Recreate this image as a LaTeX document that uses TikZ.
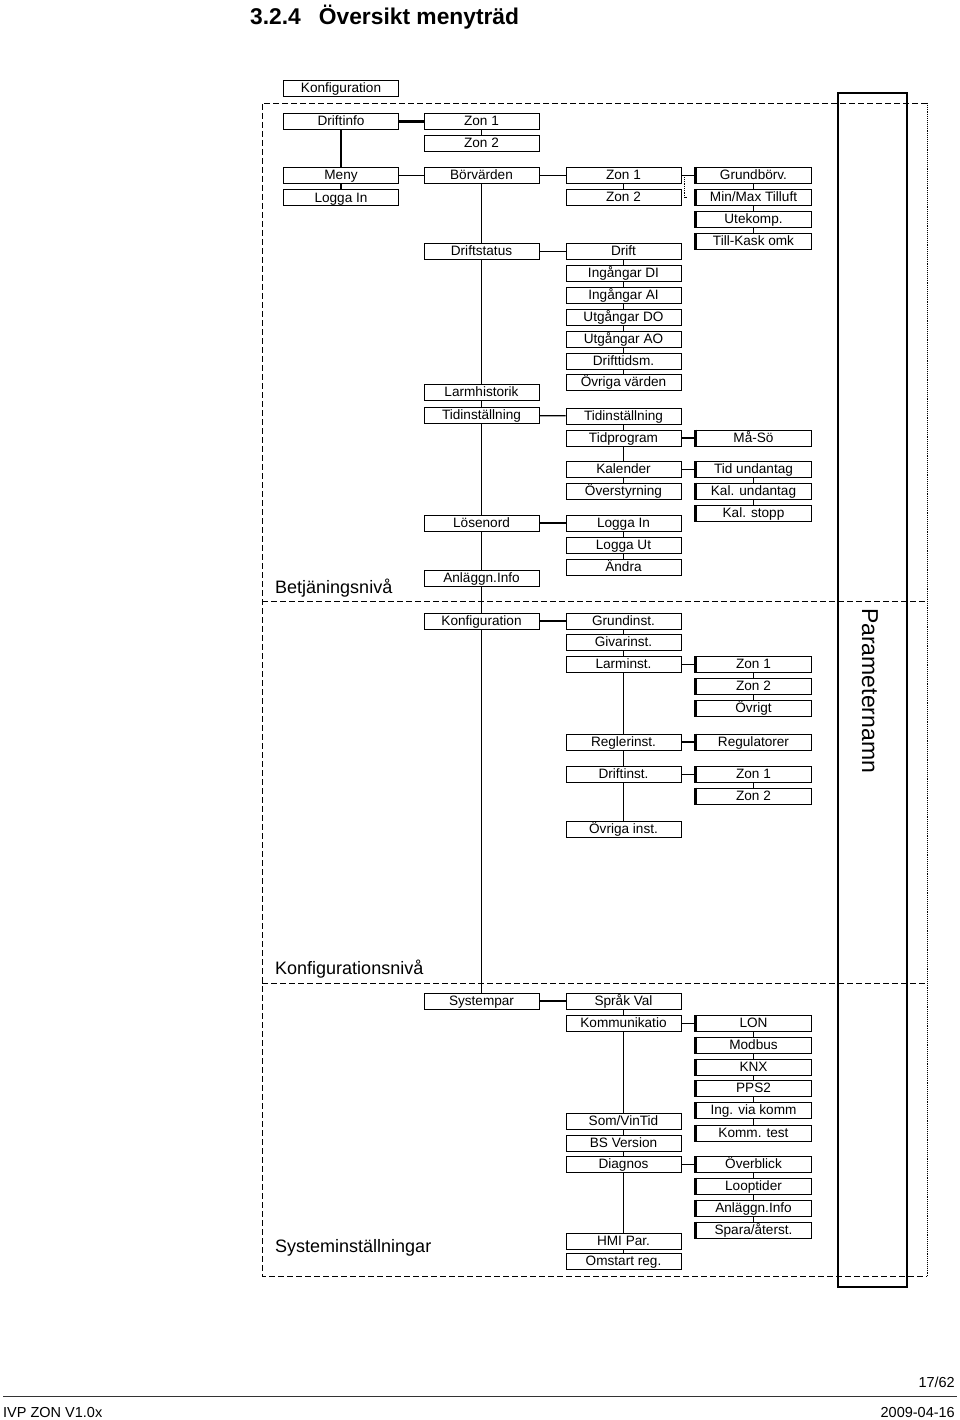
\documentclass[tikz,border=0pt]{standalone}
\usepackage{fontspec}
\setmainfont{Liberation Sans}
\usetikzlibrary{positioning, backgrounds}

\tikzset{
  menubox/.style={draw, line width=1pt, fill=white, minimum width=115pt, minimum height=16pt,
                  inner sep=0pt, text height=9.6pt, text depth=1pt, font=\fontsize{13.6}{13.6}\selectfont},
  subbox/.style={menubox, append after command={(\tikzlastnode.north west) edge[line width=2.4pt] (\tikzlastnode.south west)}},
  link/.style={line width=1.1pt},
  frame/.style={line width=0.9pt, dash pattern=on 6pt off 3pt},
  level/.style={font=\fontsize{18}{18}\selectfont, anchor=base west, inner sep=0pt},
  foot/.style={font=\fontsize{14.5}{15}\selectfont, inner sep=0pt},
}

\begin{document}
\begin{tikzpicture}[x=1pt, y=-1pt]
  \useasboundingbox (0,0) rectangle (960,1420);

  % Heading.
  \node[font=\fontsize{22.8}{24}\selectfont\bfseries, anchor=base west, inner sep=0pt] (title) at (250,25)
    {3.2.4\hspace{18pt}Översikt menyträd};

  % Level frame, split in three bands.
  \draw[frame] (927,103) -- (262,103) -- (262,1276) -- (927,1276);
  \draw[line width=0.9pt, densely dotted] (927,103) -- (927,1276);
  \draw[frame] (262,601) -- (927,601);
  \draw[frame] (262,983) -- (927,983);
  \node[level] (betj) at (275,593) {Betjäningsnivå};
  \node[level] (konfniva) at (275,974) {Konfigurationsnivå};
  \node[level] (systinst) at (275,1252) {Systeminställningar};

  % Parameter name column.
  \node[draw, line width=1.5pt, minimum width=69pt, minimum height=1194pt, inner sep=0pt] (param) at (872.5,690) {};
  \node[rotate=-90, anchor=west, inner sep=0pt, font=\fontsize{23}{23}\selectfont] (paramtext) at (870,608) {Parameternamn};

  % Column A.
  \node[menubox] (konf0) at (341,88.5) {Konfiguration};
  \node[menubox] (driftinfo) at (341,121.5) {Driftinfo};
  \node[menubox] (meny) at (341,175.5) {Meny};
  \node[menubox] (loggain0) at (341,198) {Logga In};

  % Column B.
  \node[menubox] (bzon1) at (481.5,121.5) {Zon 1};
  \node[menubox] (bzon2) at (481.5,143.5) {Zon 2};
  \node[menubox] (borv) at (481.5,175.5) {Börvärden};
  \node[menubox] (driftstatus) at (481.5,251.5) {Driftstatus};
  \node[menubox] (larmhist) at (481.5,392.5) {Larmhistorik};
  \node[menubox] (btidinst) at (481.5,415.5) {Tidinställning};
  \node[menubox] (losen) at (481.5,523) {Lösenord};
  \node[menubox] (banlagg) at (481.5,578.5) {Anläggn.Info};
  \node[menubox] (bkonf) at (481.5,621) {Konfiguration};
  \node[menubox] (syspar) at (481.5,1001) {Systempar};

  % Column C.
  \node[menubox] (czon1) at (623.5,175.5) {Zon 1};
  \node[menubox] (czon2) at (623.5,197.5) {Zon 2};
  \node[menubox] (drift) at (623.5,251.5) {Drift};
  \node[menubox] (ingdi) at (623.5,273.5) {Ingångar DI};
  \node[menubox] (ingai) at (623.5,295.5) {Ingångar AI};
  \node[menubox] (utgdo) at (623.5,317.5) {Utgångar DO};
  \node[menubox] (utgao) at (623.5,339.5) {Utgångar AO};
  \node[menubox] (drifttid) at (623.5,361) {Drifttidsm.};
  \node[menubox] (ovrvard) at (623.5,382.5) {Övriga värden};
  \node[menubox] (ctidinst) at (623.5,416) {Tidinställning};
  \node[menubox] (tidprog) at (623.5,438) {Tidprogram};
  \node[menubox] (kalender) at (623.5,469.5) {Kalender};
  \node[menubox] (overstyr) at (623.5,491) {Överstyrning};
  \node[menubox] (cloggain) at (623.5,523) {Logga In};
  \node[menubox] (cloggaut) at (623.5,545) {Logga Ut};
  \node[menubox] (andra) at (623.5,567) {Ändra};
  \node[menubox] (grundinst) at (623.5,621) {Grundinst.};
  \node[menubox] (givarinst) at (623.5,642.5) {Givarinst.};
  \node[menubox] (larminst) at (623.5,664.5) {Larminst.};
  \node[menubox] (reglerinst) at (623.5,742) {Reglerinst.};
  \node[menubox] (driftinst) at (623.5,774.5) {Driftinst.};
  \node[menubox] (ovrinst) at (623.5,829) {Övriga inst.};
  \node[menubox] (sprak) at (623.5,1001) {Språk Val};
  \node[menubox] (komm) at (623.5,1023.5) {Kommunikatio};
  \node[menubox] (somvin) at (623.5,1121) {Som/VinTid};
  \node[menubox] (bsver) at (623.5,1143) {BS Version};
  \node[menubox] (diagnos) at (623.5,1164.5) {Diagnos};
  \node[menubox] (hmipar) at (623.5,1241) {HMI Par.};
  \node[menubox] (omstart) at (623.5,1261.5) {Omstart reg.};

  % Column D.
  \node[subbox] (grundborv) at (753.5,175.5) {Grundbörv.};
  \node[subbox] (minmax) at (753.5,197.5) {Min/Max Tilluft};
  \node[subbox] (utekomp) at (753.5,219.5) {Utekomp.};
  \node[subbox] (tillkask) at (753.5,241.5) {Till-Kask omk};
  \node[subbox] (maso) at (753.5,438) {Må-Sö};
  \node[subbox] (tidund) at (753.5,469.5) {Tid undantag};
  \node[subbox] (kalund) at (753.5,491) {Kal. undantag};
  \node[subbox] (kalstopp) at (753.5,513.5) {Kal. stopp};
  \node[subbox] (dzon1a) at (753.5,664.5) {Zon 1};
  \node[subbox] (dzon2a) at (753.5,686.5) {Zon 2};
  \node[subbox] (ovrigt) at (753.5,708.5) {Övrigt};
  \node[subbox] (regulat) at (753.5,742) {Regulatorer};
  \node[subbox] (dzon1b) at (753.5,774.5) {Zon 1};
  \node[subbox] (dzon2b) at (753.5,796) {Zon 2};
  \node[subbox] (lon) at (753.5,1023.5) {LON};
  \node[subbox] (modbus) at (753.5,1045) {Modbus};
  \node[subbox] (knx) at (753.5,1067) {KNX};
  \node[subbox] (pps2) at (753.5,1088.5) {PPS2};
  \node[subbox] (ingvia) at (753.5,1110.5) {Ing. via komm};
  \node[subbox] (kommtest) at (753.5,1133) {Komm. test};
  \node[subbox] (overblick) at (753.5,1164.5) {Överblick};
  \node[subbox] (looptid) at (753.5,1186) {Looptider};
  \node[subbox] (danlagg) at (753.5,1208) {Anläggn.Info};
  \node[subbox] (spara) at (753.5,1230) {Spara/återst.};

  % Tree lines, behind the boxes.
  \begin{scope}[on background layer]
    \draw[line width=2.2pt] (driftinfo) -- (bzon1);
    \draw[link] (driftinfo) -- (loggain0);
    \draw[link] (bzon1) -- (bzon2);
    \draw[link] (meny) -- (borv) -- (czon1) -- (grundborv);
    \draw[link] (borv) -- (syspar);
    \draw[link] (czon1) -- (czon2);
    \draw[link] (driftstatus) -- (drift);
    \draw[link] (drift) -- (ovrvard);
    \draw[link] (btidinst) -- (ctidinst);
    \draw[link] (ctidinst) -- (overstyr);
    \draw[link] (tidprog) -- (maso);
    \draw[link] (kalender) -- (tidund);
    \draw[link] (losen) -- (cloggain);
    \draw[link] (cloggain) -- (andra);
    \draw[link] (bkonf) -- (grundinst);
    \draw[link] (grundinst) -- (ovrinst);
    \draw[link] (larminst) -- (dzon1a);
    \draw[link] (reglerinst) -- (regulat);
    \draw[link] (driftinst) -- (dzon1b);
    \draw[link] (syspar) -- (sprak);
    \draw[link] (sprak) -- (omstart);
    \draw[link] (komm) -- (lon);
    \draw[link] (diagnos) -- (overblick);
    \draw[link] (grundborv) -- (tillkask);
    \draw[link] (tidund) -- (kalstopp);
    \draw[link] (dzon1a) -- (ovrigt);
    \draw[link] (dzon1b) -- (dzon2b);
    \draw[link] (lon) -- (kommtest);
    \draw[link] (overblick) -- (spara);
  \end{scope}
  \draw[densely dotted, line width=0.8pt] ([xshift=3pt]czon1.east) -- ([xshift=3pt]czon1.east |- czon2.center) -- ++(3pt,0);

  % Page footer.
  \draw[line width=1pt, black!80] (3,1396) -- (957,1396);
  \node[foot, anchor=base east] (pagenr) at (955,1387) {17/62};
  \node[foot, anchor=base west] (docname) at (3,1417) {IVP ZON V1.0x};
  \node[foot, anchor=base east] (docdate) at (955,1417) {2009-04-16};
\end{tikzpicture}
\end{document}
